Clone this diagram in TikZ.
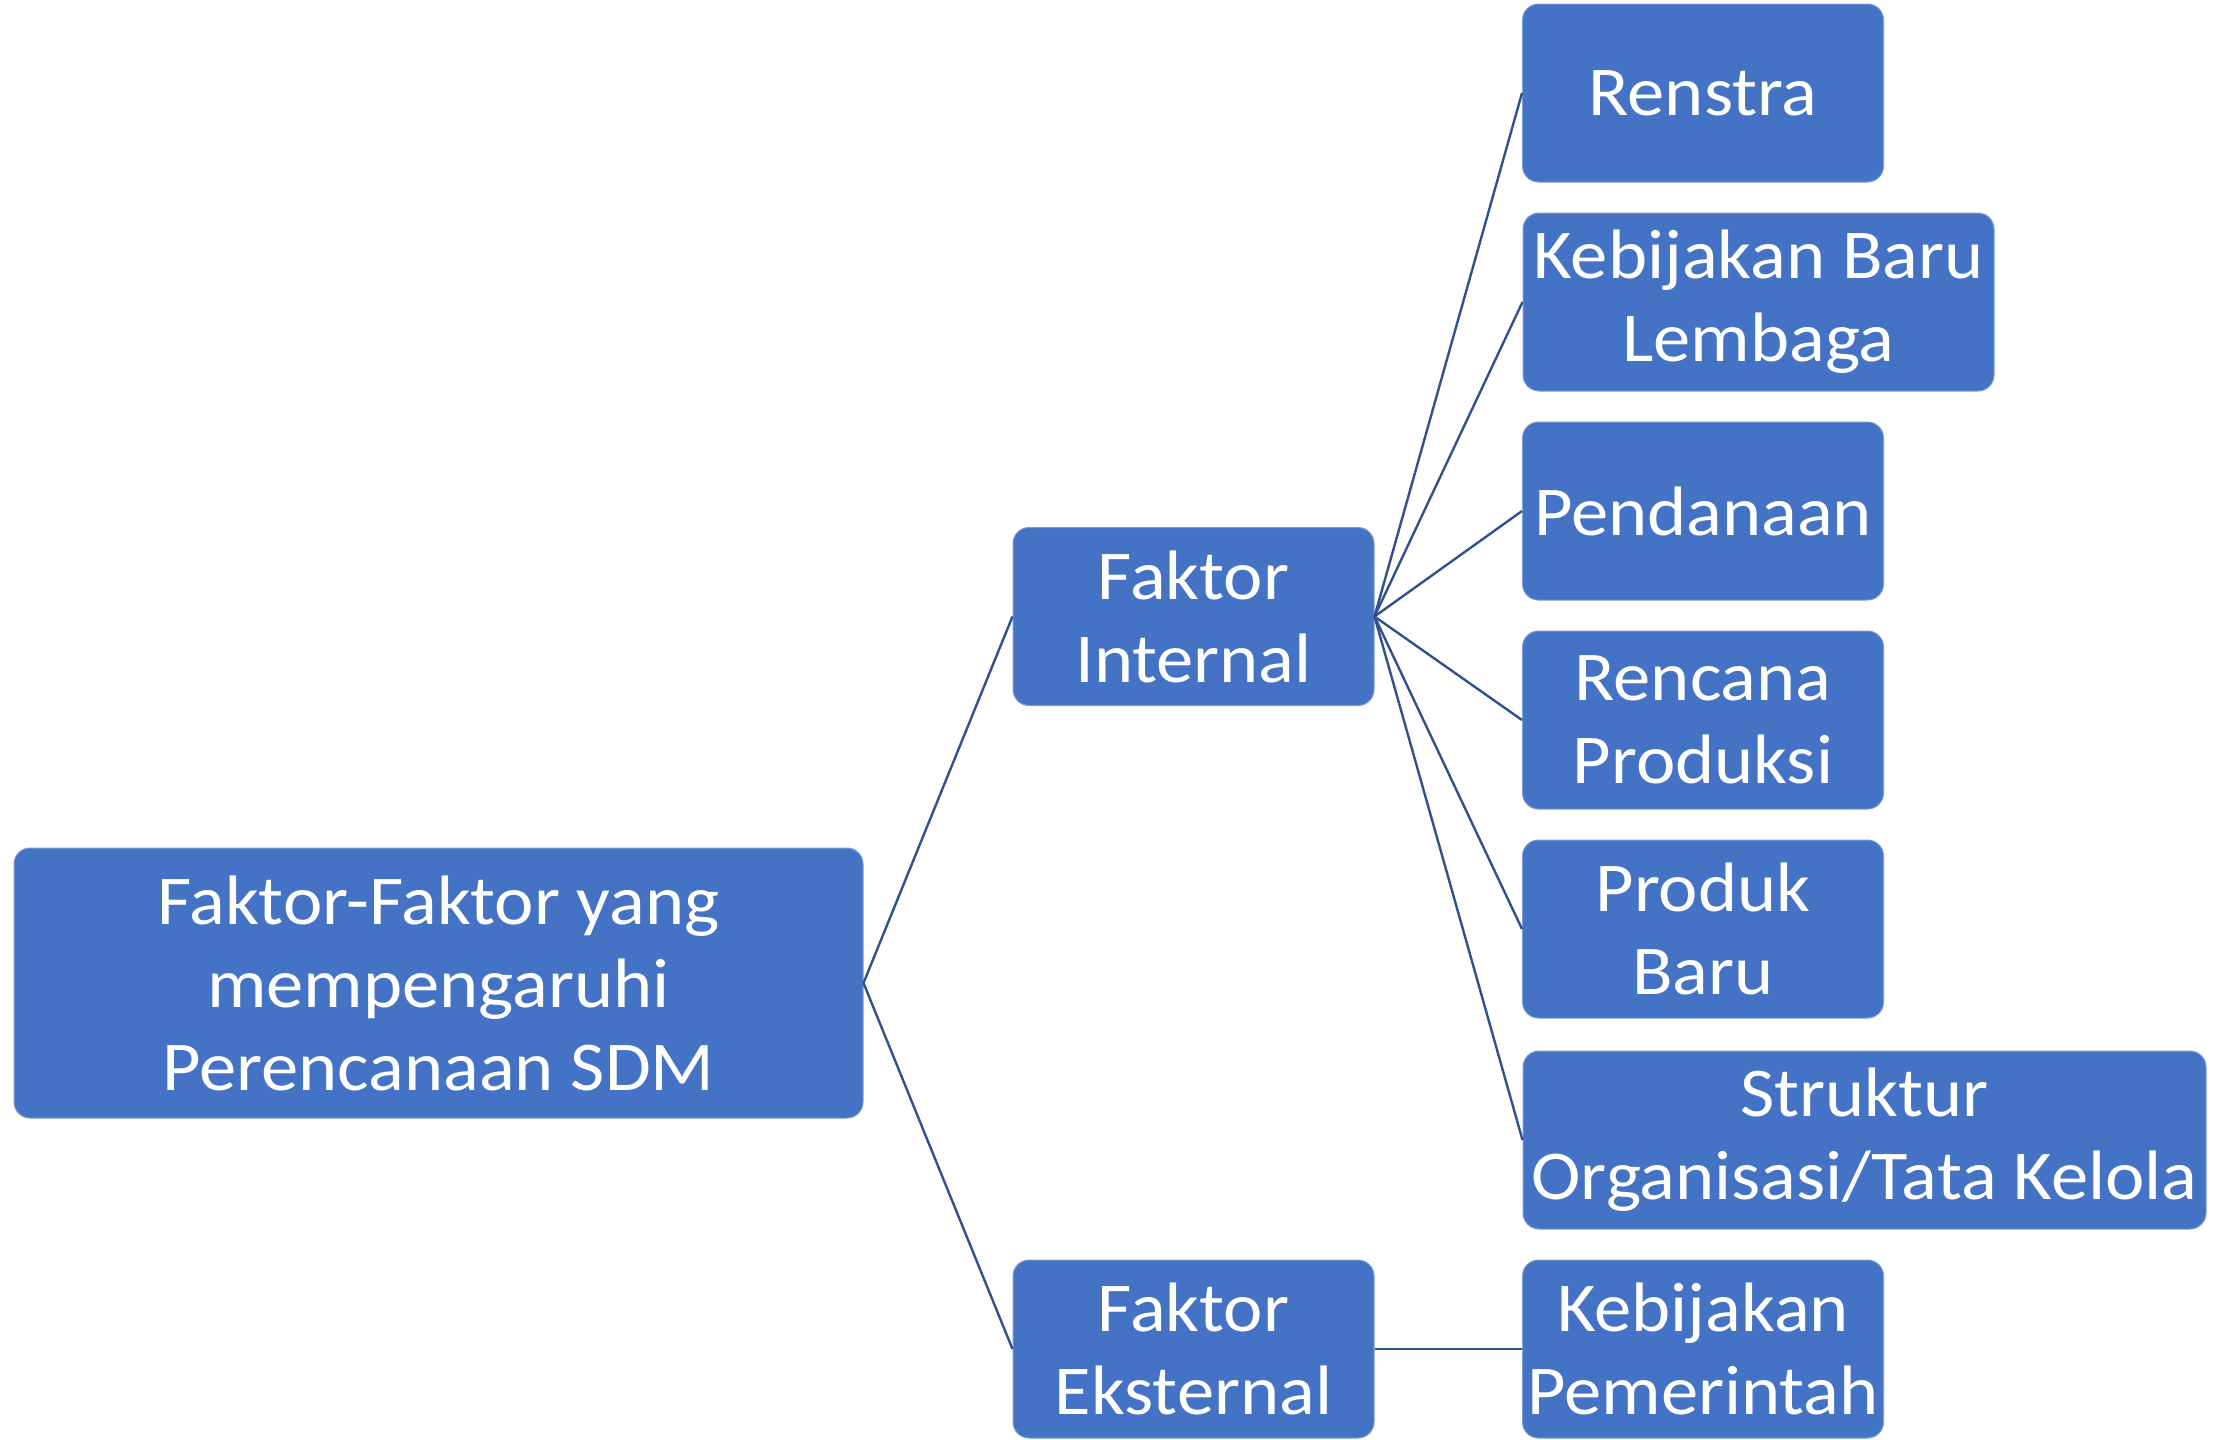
\documentclass[tikz,border=0pt]{standalone}
\usepackage{fontspec}
\setmainfont{Carlito}[FakeStretch=1.065]
\definecolor{boxblue}{HTML}{4472C4}
\definecolor{linkblue}{HTML}{2F528F}
\begin{document}
\begin{tikzpicture}[x=1pt,y=-1pt,
  box/.style={draw=boxblue!70!white, line width=1pt, fill=boxblue, rounded corners=16pt,
    text=white, align=center, inner sep=0pt,
    font=\fontsize{70}{83}\selectfont, minimum height=178pt},
  narrow/.style={box, minimum width=361pt},
  link/.style={draw=linkblue, line width=2.4pt}]
\useasboundingbox (0,0) rectangle (2230,1440);

% root
\node[box, minimum width=849pt, minimum height=270pt] (root) at (438.5,983)
  {Faktor-Faktor yang\\mempengaruhi\\Perencanaan SDM};

% second level
\node[narrow] (int) at (1193.5,616.5) {Faktor\\Internal};
\node[narrow] (ext) at (1193.5,1349) {Faktor\\Eksternal};

% internal factors
\node[narrow] (renstra) at (1703,93) {Renstra};
\node[box, minimum width=471pt] (kbl) at (1758.5,302) {Kebijakan Baru\\Lembaga};
\node[narrow] (dana) at (1703,511) {Pendanaan};
\node[narrow] (rp) at (1703,720) {Rencana\\Produksi};
\node[narrow] (pb) at (1703,929) {Produk\\Baru};
\node[box, minimum width=683pt] (so) at (1864.5,1140) {Struktur\\Organisasi/Tata Kelola};

% external factor
\node[narrow] (kp) at (1703,1349) {Kebijakan\\Pemerintah};

% connectors
\draw[link] (root.east) -- (int.west);
\draw[link] (root.east) -- (ext.west);
\foreach \n in {renstra,kbl,dana,rp,pb,so}
  \draw[link] (int.east) -- (\n.west);
\draw[link] (ext.east) -- (kp.west);
\end{tikzpicture}
\end{document}
